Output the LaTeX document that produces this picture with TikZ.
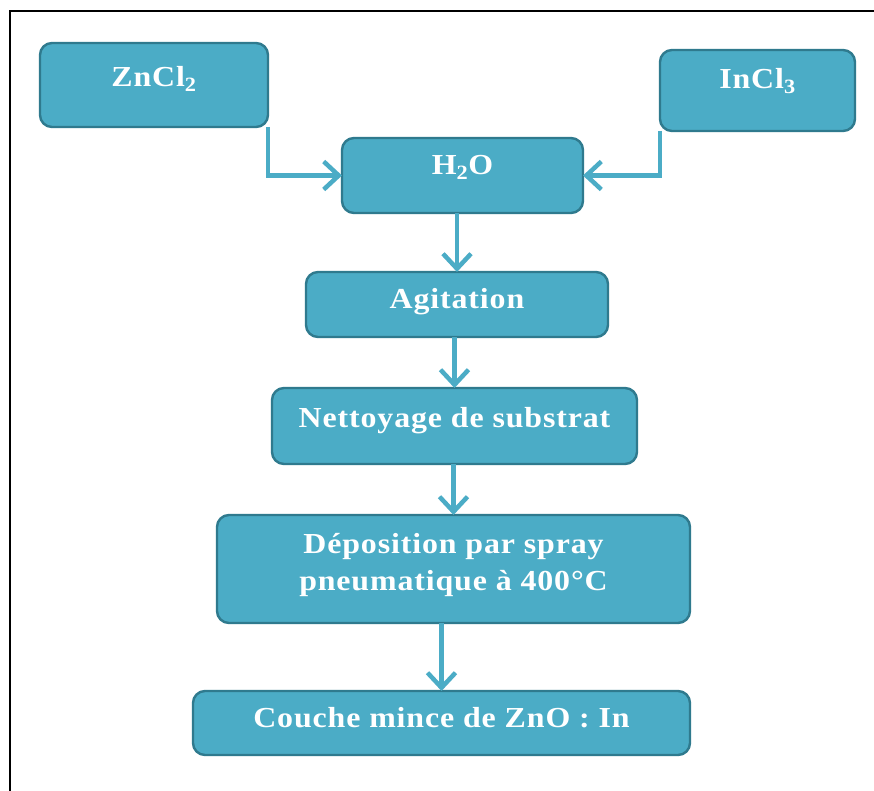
\documentclass[tikz,border=0pt]{standalone}
\usepackage{fontspec}
\usetikzlibrary{arrows.meta}
\newfontfamily\boxfont{Liberation Serif}[FakeStretch=1.1,LetterSpace=3]

\definecolor{boxfill}{HTML}{4BACC6}
\definecolor{boxedge}{HTML}{2F7A8E}
\definecolor{flow}{HTML}{4BACC6}

\tikzset{
  stepbox/.style={draw=boxedge, line width=2.4pt, fill=boxfill,
    rounded corners=12pt, inner sep=0pt, outer sep=0pt},
  steptext/.style={text=white, anchor=base, align=center,
    font=\boxfont\bfseries\fontsize{29}{37}\selectfont},
  flowline/.style={draw=flow, line width=4.5pt,
    -{Straight Barb[length=15pt,width=28pt,line width=4.5pt]}},
}

\begin{document}
\begin{tikzpicture}[x=1pt,y=-1pt]
  \useasboundingbox (0,0) rectangle (874,791);
  \fill[white] (0,0) rectangle (874,791);

  % page frame (top and left edges)
  \draw[line width=1.5pt] (874,11) -- (10,11) -- (10,791);

  % boxes
  \node[stepbox, minimum width=228pt, minimum height=84pt]  (zn)   at (154,85)    {};
  \node[stepbox, minimum width=195pt, minimum height=81pt]  (in)   at (757.5,90.5) {};
  \node[stepbox, minimum width=241pt, minimum height=75pt]  (h2o)  at (462.5,175.5) {};
  \node[stepbox, minimum width=302pt, minimum height=65pt]  (agit) at (457,304.5) {};
  \node[stepbox, minimum width=365pt, minimum height=76pt]  (nett) at (454.5,426) {};
  \node[stepbox, minimum width=473pt, minimum height=108pt] (dep)  at (453.5,569) {};
  \node[stepbox, minimum width=497pt, minimum height=64pt]  (couche) at (441.5,723) {};

  % labels
  \node[steptext] (zntxt)   at ([yshift=-2pt]zn.center)     {ZnCl\textsubscript{2}};
  \node[steptext] (intxt)   at ([yshift=1.5pt]in.center)    {InCl\textsubscript{3}};
  \node[steptext] (h2otxt)  at ([yshift=0.5pt]h2o.center)   {H\textsubscript{2}O};
  \node[steptext] (agittxt) at ([yshift=-3.5pt]agit.center) {Agitation};
  \node[steptext] (netttxt) at ([yshift=-1pt]nett.center)   {Nettoyage de substrat};
  \node[steptext] (deptxt)  at ([yshift=-21pt]dep.center)   {Déposition par spray\\pneumatique à 400°C};
  \node[steptext] (couchetxt) at ([yshift=-4pt]couche.center) {Couche mince de ZnO : In};

  % connectors
  \draw[flowline] (zn.south east) |- (h2o.west);
  \draw[flowline] (in.south west) |- (h2o.east);
  \draw[flowline] (h2o.south -| agit.north) -- (agit.north);
  \draw[flowline] (agit.south -| nett.north) -- (nett.north);
  \draw[flowline] (nett.south -| dep.north) -- (dep.north);
  \draw[flowline] (dep.south -| couche.north) -- (couche.north);
\end{tikzpicture}
\end{document}
